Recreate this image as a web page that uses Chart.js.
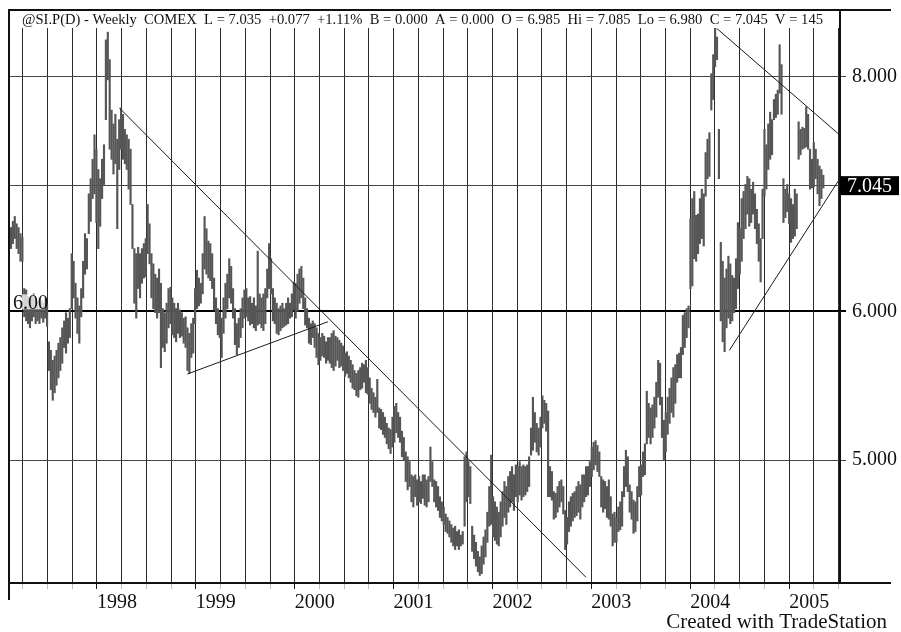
<!DOCTYPE html>
<html>
<head>
<meta charset="utf-8">
<script src="https://cdn.jsdelivr.net/npm/chart.js@4"></script>
<style>
  body { margin: 0; background: #fff; }
  canvas { display: block; }
</style>
</head>
<body>
<canvas id="chart" width="901" height="632"></canvas>
<script>
// weekly silver bars (SI.P), high / low in cents
const highs = [
  665,670,674,668,665,660,657,617,616,611, 608,611,613,610,607,610,608,606,610,605,
  578,572,565,568,572,577,581,588,593,599, 595,602,644,638,621,610,604,617,638,660,
  656,693,706,723,745,732,714,706,723,736, 837,845,817,768,755,764,741,759,770,764,
  750,745,741,732,684,648,644,649,644,648, 652,656,684,668,644,636,628,625,632,621,
  602,599,606,617,618,610,606,602,606,601, 599,595,596,588,584,591,595,617,631,625,
  621,644,674,664,654,652,644,625,610,602, 599,595,610,621,628,640,634,617,602,591,
  595,602,610,616,617,610,611,606,610,604, 646,613,610,613,617,632,652,640,617,610,
  606,602,604,606,602,606,610,606,613,622, 621,628,632,634,625,610,602,595,591,593,
  591,588,584,581,584,582,578,581,581,584, 586,582,581,579,577,575,570,571,568,565,
  562,558,556,558,560,563,562,565,560,553, 546,543,540,552,533,532,530,527,523,520,
  519,527,534,536,530,527,518,514,505,502, 499,491,490,491,488,490,487,491,491,488,
  490,508,499,488,487,484,478,475,472,468, 466,464,462,460,461,458,459,456,458,502,
  505,499,496,461,456,452,447,444,450,455, 459,469,484,503,478,475,472,469,475,481,
  487,484,490,493,496,491,497,496,499,496, 497,496,497,502,520,540,530,523,520,527,
  541,538,536,531,496,493,481,480,484,487, 488,484,470,466,475,478,480,481,484,487,
  485,491,491,496,496,499,508,511,512,509, 505,490,488,487,484,488,478,468,469,466,
  472,475,481,496,506,502,485,481,476,475, 484,496,497,505,510,544,536,533,535,540,
  550,565,563,540,525,530,540,546,553,560, 562,569,570,574,597,599,602,604,672,689,
  695,675,676,689,697,693,729,741,747,803, 822,850,840,750,653,638,625,632,642,636,
  627,625,640,669,664,689,695,701,708,706, 697,703,693,680,668,656,697,750,736,755,
  766,759,778,783,787,832,812,706,697,701, 693,689,684,697,693,757,750,752,751,771,
  764,732,723,738,732,723,717,714,709
];
const lows = [
  648,652,656,648,644,638,638,596,593,591, 588,593,596,591,593,591,595,592,595,589,
  558,545,538,543,548,553,558,563,574,570, 577,581,602,610,595,584,577,596,610,628,
  632,660,670,689,693,669,648,666,689,701, 759,797,732,723,710,719,664,714,732,723,
  719,714,697,684,648,606,595,617,610,621, 625,626,644,636,610,602,599,595,599,560,
  574,571,577,588,591,583,581,578,584,581, 582,577,574,558,556,567,570,591,602,604,
  606,613,632,628,625,623,617,601,591,583, 581,567,584,595,602,610,606,595,576,569,
  574,581,588,595,596,593,590,591,588,586, 590,591,588,586,591,610,617,613,593,591,
  584,583,586,588,589,590,591,595,596,601, 595,600,606,610,602,590,588,577,576,581,
  574,567,562,565,568,567,563,565,563,560, 558,561,565,560,561,558,554,556,553,550,
  546,545,541,540,545,546,550,543,542,536, 532,530,527,530,520,519,516,514,510,507,
  504,508,511,517,514,511,502,500,487,482, 484,475,472,478,473,475,474,477,473,472,
  475,487,484,475,472,470,466,464,462,458, 457,455,452,450,448,450,448,450,451,461,
  475,478,474,447,443,439,436,434,435,440, 444,452,461,462,455,453,451,450,455,461,
  466,462,469,472,475,470,478,475,479,476, 478,479,481,484,503,506,511,505,503,508,
  520,523,518,478,478,476,465,466,469,472, 475,468,448,451,458,461,464,466,467,469,
  465,472,475,478,479,484,490,494,497,493, 490,472,469,471,466,465,461,450,452,452,
  458,459,461,478,484,481,469,465,457,458, 464,478,479,490,491,510,514,510,514,520,
  527,540,535,514,500,505,516,523,530,527, 536,550,553,553,569,574,581,588,617,619,
  640,638,644,652,656,650,691,706,708,768, 778,810,817,706,593,578,571,588,595,591,
  593,599,602,617,628,638,656,664,676,666, 669,676,664,652,638,622,656,691,697,714,
  723,727,759,761,764,784,764,669,673,678, 668,653,656,658,664,723,727,732,733,734,
  732,697,698,699,706,693,683,689,698
];

const yearLabels = ['1998', '1999', '2000', '2001', '2002', '2003', '2004', '2005'];
const firstYearWeek = 45.3;   // bar index where 1998 starts
const weeksPerYear = 52.1;

const priceTicks = [5, 6, 7, 8];
const lastClose = 7.045;

// hand drawn trend lines: [bar index, price]
const trendLines = [
  [[57.1, 7.70], [303.0, 4.33]],
  [[92.9, 5.556], [167.0, 5.924]],
  [[371.8, 8.49], [435.9, 7.46]],
  [[378.5, 5.72], [435.9, 7.04]]
];

const header = '@SI.P(D) - Weekly  COMEX  L = 7.035  +0.077  +1.11%  B = 0.000  A = 0.000  O = 6.985  Hi = 7.085  Lo = 6.980  C = 7.045  V = 145';

const serif = '"Liberation Serif", "Times New Roman", serif';

function yearOf(v) {
    const k = (v - firstYearWeek) / weeksPerYear;
    if (Math.abs(k - Math.round(k)) < 0.01) return yearLabels[Math.round(k)];
    return null;
}

const datasets = [{
    type: 'bar',
    data: highs.map((h, i) => ({ x: i, y: [lows[i] / 100, h / 100] })),
    backgroundColor: '#565656',
    barThickness: 1.5,
    grouped: false,
    order: 2
}];
trendLines.forEach(l => {
    datasets.push({
        type: 'line',
        data: l.map(p => ({ x: p[0], y: p[1] })),
        borderColor: '#1a1a1a',
        borderWidth: 1,
        pointRadius: 0,
        tension: 0,
        order: 1
    });
});

const decor = {
    id: 'decor',
    afterDraw(chart) {
        const { ctx, chartArea: a } = chart;
        const y = chart.scales.y;
        ctx.save();
        // frame
        ctx.strokeStyle = '#111';
        ctx.lineWidth = 2;
        ctx.beginPath();
        ctx.moveTo(a.left, 600); ctx.lineTo(a.left, 10); ctx.lineTo(891, 10);
        ctx.moveTo(a.right, 10); ctx.lineTo(a.right, a.bottom);
        ctx.moveTo(a.left, a.bottom); ctx.lineTo(891, a.bottom);
        ctx.stroke();

        ctx.fillStyle = '#111';
        ctx.font = '14.6px ' + serif;
        ctx.fillText(header, 22, 24);

        // label of the 6.00 line, on a light halo
        const y6 = y.getPixelForValue(6);
        ctx.fillStyle = 'rgba(255,255,255,0.75)';
        ctx.fillRect(a.left + 3, y6 - 17, 33, 15);
        ctx.fillStyle = '#111';
        ctx.font = '20px ' + serif;
        ctx.fillText('6.00', a.left + 4, y6 - 2);

        // last price marker
        const yy = y.getPixelForValue(7);
        ctx.fillStyle = '#000';
        ctx.fillRect(a.right, yy - 9.5, 59, 19);
        ctx.fillStyle = '#fff';
        ctx.textBaseline = 'middle';
        ctx.fillText(lastClose.toFixed(3), 847, yy + 1);

        ctx.fillStyle = '#111';
        ctx.textAlign = 'right';
        ctx.textBaseline = 'alphabetic';
        ctx.font = '21px ' + serif;
        ctx.fillText('Created with TradeStation', 887, 628);
        ctx.restore();
    }
};

new Chart(document.getElementById('chart'), {
    data: { datasets: datasets },
    plugins: [decor],
    options: {
        responsive: false,
        animation: false,
        layout: { padding: { left: 9, top: 28, right: 0, bottom: 0 } },
        plugins: {
            legend: { display: false },
            tooltip: { enabled: false }
        },
        scales: {
            x: {
                type: 'linear',
                min: -1.05,
                max: 436.8,
                offset: false,
                afterBuildTicks: s => {
                    const t = [];
                    for (let q = -3; firstYearWeek + q * weeksPerYear / 4 < 436.8; q++) {
                        t.push({ value: firstYearWeek + q * weeksPerYear / 4 });
                    }
                    s.ticks = t;
                },
                afterFit: s => { s.height = 49; },
                grid: {
                    offset: false,
                    color: '#2a2a2a',
                    lineWidth: 1,
                    tickLength: 6,
                    tickColor: c => (c.tick && yearOf(c.tick.value)) ? '#111' : 'rgba(0,0,0,0.25)'
                },
                border: { display: false },
                ticks: {
                    autoSkip: false,
                    maxRotation: 0,
                    align: 'start',
                    padding: 2,
                    color: '#111',
                    font: { family: serif, size: 20 },
                    callback: v => yearOf(v) || ''
                }
            },
            y: {
                type: 'logarithmic',
                position: 'right',
                min: 4.313,
                max: 8.493,
                afterBuildTicks: s => { s.ticks = priceTicks.map(v => ({ value: v })); },
                afterFit: s => { s.width = 61; },
                grid: {
                    color: c => (c.tick && c.tick.value === 6) ? '#000' : '#444',
                    lineWidth: c => (c.tick && c.tick.value === 6) ? 2 : 1,
                    tickLength: 6
                },
                border: { display: false },
                ticks: {
                    padding: 6,
                    color: '#111',
                    font: { family: serif, size: 20 },
                    callback: v => v === 7 ? '' : Number(v).toFixed(3)
                }
            }
        }
    }
});
</script>
</body>
</html>
